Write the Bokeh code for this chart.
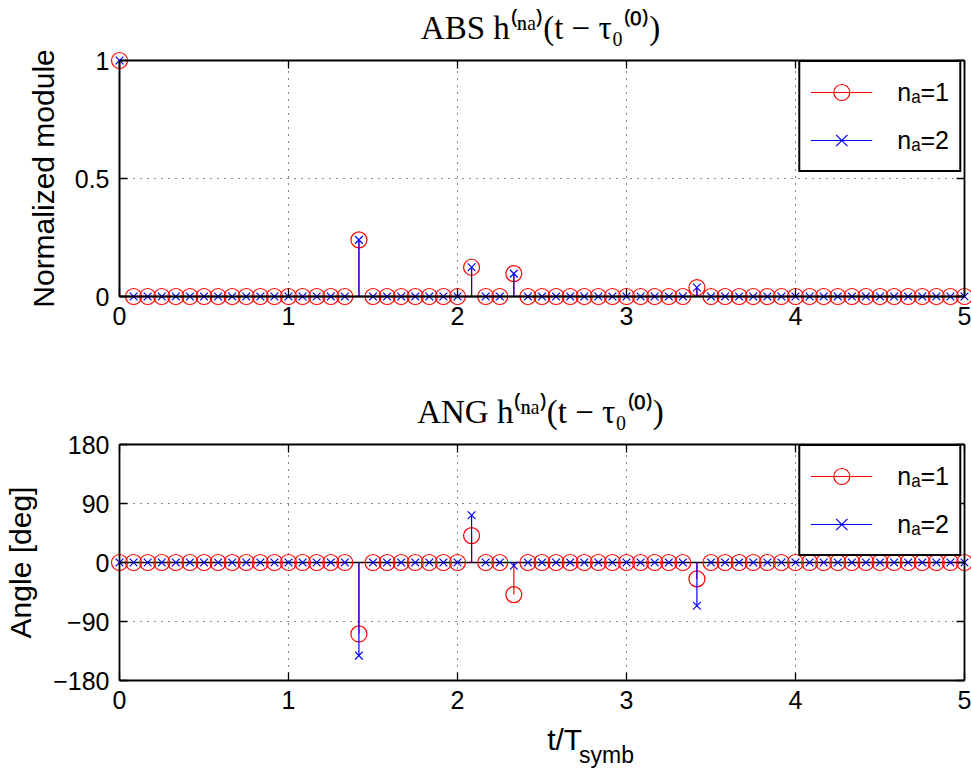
import numpy as np
from bokeh.plotting import figure
from bokeh.layouts import column
from bokeh.models import Range1d, LinearAxis, FixedTicker, Legend, LegendItem
from bokeh.core.properties import value
from bokeh.embed import file_html
from bokeh.resources import INLINE

# ---------------- data ----------------
# sampling instants t/T_symb (12 samples per symbol, from 0 to 5)
t = np.arange(61) / 12.0

# normalized module |h^(n_a)|
abs_na1 = [
    1.0, 0, 0, 0, 0, 0, 0, 0, 0, 0, 0, 0,
    0, 0, 0, 0, 0, 0.24, 0, 0, 0, 0, 0, 0,
    0, 0.124, 0, 0, 0.097, 0, 0, 0, 0, 0, 0, 0,
    0, 0, 0, 0, 0, 0.038, 0, 0, 0, 0, 0, 0,
    0, 0, 0, 0, 0, 0, 0, 0, 0, 0, 0, 0,
    0]
abs_na2 = [
    1.0, 0, 0, 0, 0, 0, 0, 0, 0, 0, 0, 0,
    0, 0, 0, 0, 0, 0.24, 0, 0, 0, 0, 0, 0,
    0, 0.124, 0, 0, 0.097, 0, 0, 0, 0, 0, 0, 0,
    0, 0, 0, 0, 0, 0.038, 0, 0, 0, 0, 0, 0,
    0, 0, 0, 0, 0, 0, 0, 0, 0, 0, 0, 0,
    0]
# angle in degrees
ang_na1 = [
    0, 0, 0, 0, 0, 0, 0, 0, 0, 0, 0, 0,
    0, 0, 0, 0, 0, -109, 0, 0, 0, 0, 0, 0,
    0, 41, 0, 0, -49, 0, 0, 0, 0, 0, 0, 0,
    0, 0, 0, 0, 0, -25, 0, 0, 0, 0, 0, 0,
    0, 0, 0, 0, 0, 0, 0, 0, 0, 0, 0, 0,
    0]
ang_na2 = [
    0, 0, 0, 0, 0, 0, 0, 0, 0, 0, 0, 0,
    0, 0, 0, 0, 0, -142, 0, 0, 0, 0, 0, 0,
    0, 72, 0, 0, -5, 0, 0, 0, 0, 0, 0, 0,
    0, 0, 0, 0, 0, -66, 0, 0, 0, 0, 0, 0,
    0, 0, 0, 0, 0, 0, 0, 0, 0, 0, 0, 0,
    0]

x_ticks = [0, 1, 2, 3, 4, 5]
x_tick_labels = {0: "0", 1: "1", 2: "2", 3: "3", 4: "4", 5: "5"}
abs_ticks = [0, 0.5, 1]
abs_tick_labels = {0: "0", 0.5: "0.5", 1: "1"}
ang_ticks = [-180, -90, 0, 90, 180]
ang_tick_labels = {-180: "\u2212180", -90: "\u221290", 0: "0", 90: "90", 180: "180"}

titles = ["ABS h\u207d\u207f\u1d43\u207e(t \u2212 \u03c4\u2080\u207d\u2070\u207e)",
          "ANG h\u207d\u207f\u1d43\u207e(t \u2212 \u03c4\u2080\u207d\u2070\u207e)"]
y_titles = ["Normalized module", "Angle [deg]"]
legend_labels = ["n\u2090=1", "n\u2090=2"]
x_title_main = "t/T"
x_title_sub = "symb"

# ---------------- style / layout ----------------
W = 971
BOX_L, BOX_R = 119, 964
BOX_H = 236
PAD = 10
TOP_MARGIN = 60
SANS = "Liberation Sans"
SERIF = "Liberation Serif"
RED = "#ff0000"
BLUE = "#0000ff"


def box_axis(ax, ticks, loc, bounds):
    """Axis drawn on the data box (fixed location): line + inward ticks only."""
    ax.ticker = FixedTicker(ticks=ticks)
    ax.fixed_location = loc
    ax.bounds = bounds
    ax.axis_line_color = "black"
    ax.axis_line_width = 1.8
    ax.major_tick_in = 8
    ax.major_tick_out = 0
    ax.major_tick_line_color = "black"
    ax.major_tick_line_width = 1.3
    ax.minor_tick_line_color = None
    ax.major_label_text_color = None


def label_axis(ax, ticks, labels):
    """Axis at the frame edge that only carries the tick labels."""
    ax.ticker = FixedTicker(ticks=ticks)
    ax.axis_line_color = None
    ax.major_tick_line_color = None
    ax.minor_tick_line_color = None
    ax.major_tick_in = 0
    ax.major_tick_out = 0
    ax.major_label_standoff = 0
    ax.major_label_text_font = SANS
    ax.major_label_text_font_size = "25px"
    ax.major_label_text_color = "black"
    ax.major_label_overrides = labels


def make_panel(height, y_ticks, y_labels, y_title, ylab_standoff, title, s1, s2):
    x0, x1 = x_ticks[0], x_ticks[-1]
    y0, y1 = y_ticks[0], y_ticks[-1]
    kx = (BOX_R - BOX_L) / (x1 - x0)
    ky = BOX_H / (y1 - y0)
    xr = Range1d(x0 - PAD / kx, x1 + (W - BOX_R) / kx)
    yr = Range1d(y0 - PAD / ky, y1 + PAD / ky)
    p = figure(width=W, height=height, x_range=xr, y_range=yr,
               output_backend="svg", toolbar_location=None,
               min_border_left=BOX_L - PAD, min_border_right=0,
               min_border_top=TOP_MARGIN - PAD,
               min_border_bottom=height - (TOP_MARGIN + BOX_H + PAD),
               title=title)
    p.outline_line_color = None
    p.background_fill_color = "white"
    p.border_fill_color = "white"
    p.xgrid.visible = False
    p.ygrid.visible = False

    p.title.text_font = SERIF
    p.title.text_font_size = "33px"
    p.title.text_font_style = "normal"
    p.title.text_color = "black"
    p.title.align = "center"
    p.title.standoff = 9

    bottom_ax = p.below[0]
    left_ax = p.left[0]
    label_axis(bottom_ax, x_ticks, x_tick_labels)
    label_axis(left_ax, y_ticks, y_labels)
    left_ax.axis_label = y_title
    left_ax.axis_label_text_font = SANS
    left_ax.axis_label_text_font_size = "30px"
    left_ax.axis_label_text_font_style = "normal"
    left_ax.axis_label_text_color = "black"
    left_ax.axis_label_standoff = ylab_standoff

    for side, ticks, loc, bounds in (("below", x_ticks, y0, (x0, x1)),
                                     ("above", x_ticks, y1, (x0, x1)),
                                     ("left", y_ticks, x0, (y0, y1)),
                                     ("right", y_ticks, x1, (y0, y1))):
        ax = LinearAxis()
        box_axis(ax, ticks, loc, bounds)
        p.add_layout(ax, side)

    # dotted grid
    gx = x_ticks[1:-1]
    gy = y_ticks[1:-1]
    p.segment(x0=gx, y0=[y0] * len(gx), x1=gx, y1=[y1] * len(gx),
              line_color="#111111", line_dash="1 6", line_width=1.1)
    p.segment(x0=[x0] * len(gy), y0=gy, x1=[x1] * len(gy), y1=gy,
              line_color="#111111", line_dash="1 6", line_width=1.1)

    # stem baseline
    p.line(x=[t[0], t[-1]], y=[0, 0], line_color="black", line_width=1.5)

    zeros = np.zeros(len(t))
    r1s = p.segment(x0=t, y0=zeros, x1=t, y1=s1, line_color=RED, line_width=1.2)
    r1m = p.scatter(t, s1, marker="circle", size=16, fill_color=None,
                    line_color=RED, line_width=1.2)
    r2s = p.segment(x0=t, y0=zeros, x1=t, y1=s2, line_color=BLUE, line_width=1.2)
    r2m = p.scatter(t, s2, marker="x", size=11, line_color=BLUE, line_width=1.2)

    legend = Legend(items=[LegendItem(label=legend_labels[0], renderers=[r1s, r1m]),
                           LegendItem(label=legend_labels[1], renderers=[r2s, r2m])],
                    location="top_right", margin=10, padding=10, spacing=8,
                    glyph_width=62, glyph_height=40, label_standoff=25,
                    label_text_font=SANS, label_text_font_size="25px",
                    label_text_color="black",
                    border_line_color="black", border_line_width=2,
                    border_line_alpha=1,
                    background_fill_color="white", background_fill_alpha=1)
    p.add_layout(legend)
    return p


H1 = 384            # top panel
H2 = 335            # bottom panel (without x-axis title)
H3 = 772 - H1 - H2  # strip holding the x-axis title

p1 = make_panel(H1, abs_ticks, abs_tick_labels, y_titles[0], 12, titles[0],
                abs_na1, abs_na2)
p2 = make_panel(H2, ang_ticks, ang_tick_labels, y_titles[1], 13, titles[1],
                ang_na1, ang_na2)

# x-axis title "t/T" with subscript "symb" (strip below the bottom panel)
strip = figure(width=W, height=H3, x_range=Range1d(0, W), y_range=Range1d(0, H3),
               output_backend="svg", toolbar_location=None, title=None,
               x_axis_location=None, y_axis_location=None,
               min_border_left=0, min_border_right=0, min_border_top=0, min_border_bottom=0)
strip.grid.visible = False
strip.outline_line_color = None
strip.background_fill_color = "white"
strip.border_fill_color = "white"
strip.text(x=[493], y=[33], text=[x_title_main], text_font=value(SANS),
           text_font_size="30px", text_color="black", text_align="left",
           text_baseline="alphabetic")
strip.text(x=[529], y=[18], text=[x_title_sub], text_font=value(SANS),
           text_font_size="23px", text_color="black", text_align="left",
           text_baseline="alphabetic")

layout = column(p1, p2, strip, spacing=0)
open("out.html", "w").write(file_html(layout, INLINE))
